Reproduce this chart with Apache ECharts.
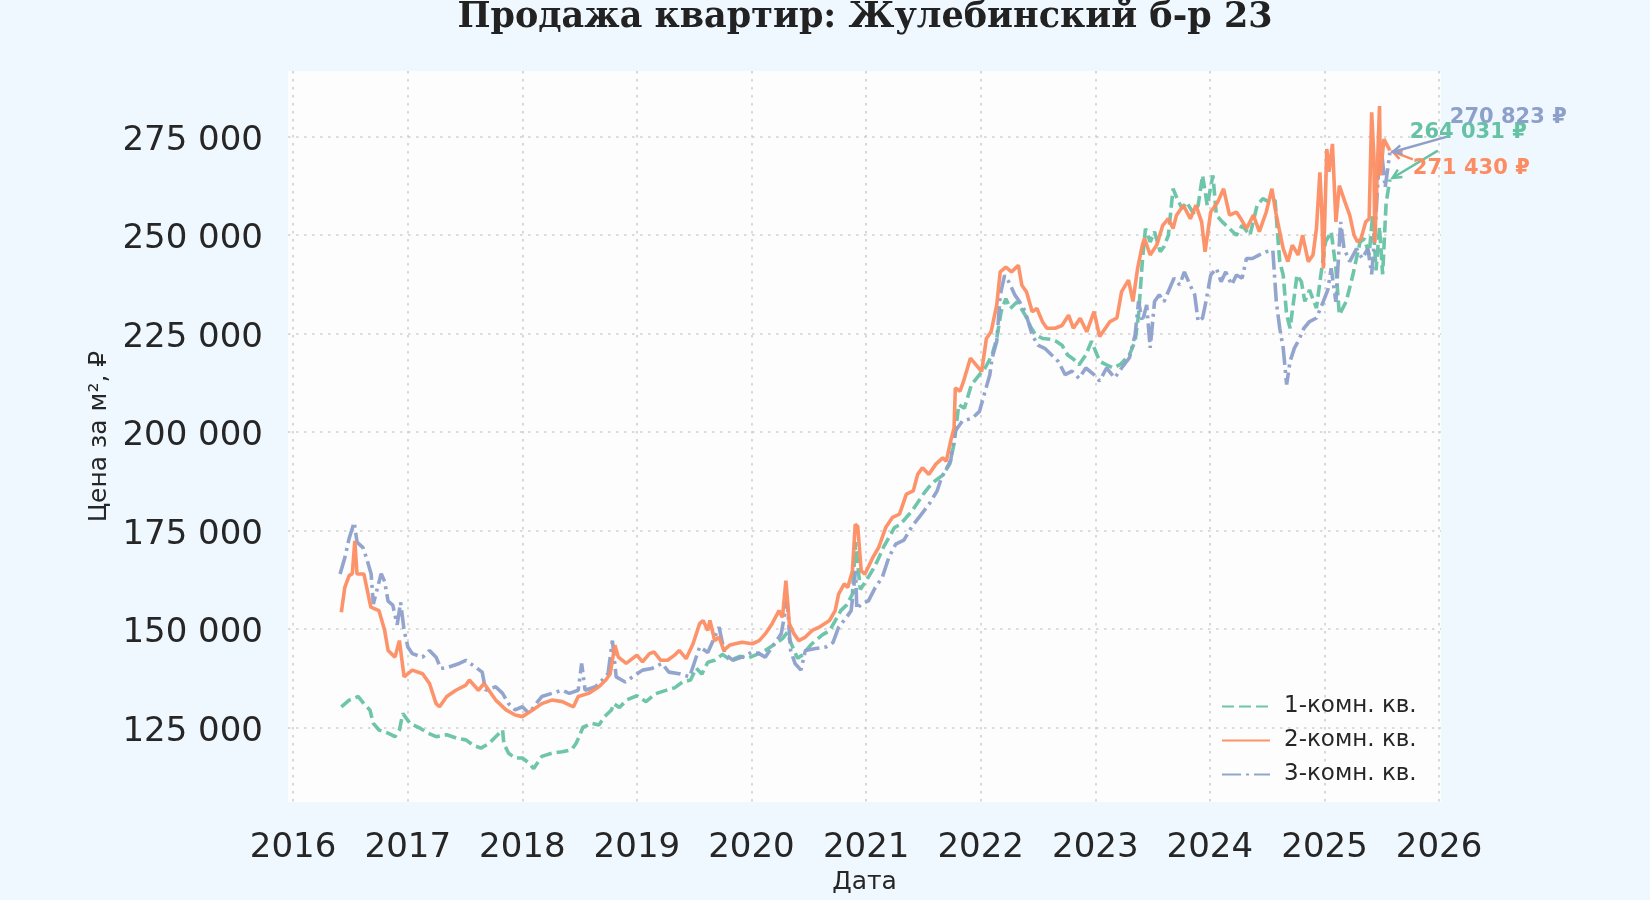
<!DOCTYPE html>
<html><head><meta charset="utf-8">
<script src="https://cdn.jsdelivr.net/npm/echarts@6/dist/echarts.min.js"></script>
<style>html,body{margin:0;padding:0;background:#f0f8ff}#c{width:1650px;height:900px}</style>
</head><body><div id="c"></div>
<script>
const titleText = 'Продажа квартир: Жулебинский б-р 23';
const seriesNames = ['1-комн. кв.', '2-комн. кв.', '3-комн. кв.'];
const seriesColors = ['#66c2a5', '#fc8d62', '#8da0cb'];
const xAxisName = 'Дата';
const yAxisName = 'Цена за м², ₽';

const dates1 = ['2016-06-03','2016-06-28','2016-07-27','2016-08-14','2016-09-02','2016-09-13','2016-10-01','2016-10-30','2016-11-21','2016-12-05','2016-12-16',
'2017-01-08','2017-02-10','2017-03-07','2017-04-01','2017-05-05','2017-06-07','2017-07-05','2017-07-27','2017-08-22','2017-09-17','2017-10-08','2017-10-30','2017-11-03','2017-11-18','2017-12-09',
'2018-01-01','2018-01-22','2018-02-06','2018-03-04','2018-04-05','2018-05-08','2018-06-07','2018-06-21','2018-07-01','2018-07-13','2018-08-11','2018-09-02','2018-09-20','2018-10-12','2018-10-19','2018-11-06','2018-12-01',
'2019-01-01','2019-01-30','2019-03-01','2019-04-01','2019-05-01','2019-05-27','2019-06-21','2019-07-09','2019-07-27','2019-08-15','2019-09-06','2019-10-01','2019-10-27','2019-11-25','2019-12-20',
'2020-01-19','2020-02-14','2020-03-14','2020-04-09','2020-04-24','2020-05-08','2020-05-27','2020-06-14','2020-07-09','2020-07-31','2020-08-15','2020-09-06','2020-09-24','2020-10-12','2020-10-30','2020-11-18','2020-11-28','2020-12-13',
'2021-01-01','2021-01-22','2021-02-06','2021-02-25','2021-03-14','2021-04-01','2021-04-20','2021-05-09','2021-05-27','2021-06-18','2021-07-02','2021-07-20','2021-08-08','2021-09-02','2021-09-24','2021-10-08','2021-10-23','2021-11-10','2021-12-02','2021-12-28',
'2022-01-15','2022-02-06','2022-02-21','2022-03-07','2022-03-22','2022-04-05','2022-04-27','2022-05-23','2022-06-10','2022-06-25','2022-07-17','2022-08-11','2022-08-29','2022-09-17','2022-10-05','2022-10-23','2022-11-10','2022-12-02','2022-12-20',
'2023-01-15','2023-02-06','2023-02-28','2023-03-22','2023-04-20','2023-05-08','2023-05-19','2023-05-31','2023-06-10','2023-06-25','2023-07-09','2023-07-27','2023-08-08','2023-08-22','2023-09-06','2023-09-20','2023-10-05','2023-10-19','2023-11-10','2023-11-25','2023-12-09','2023-12-24',
'2024-01-11','2024-01-22','2024-02-10','2024-03-04','2024-03-26','2024-04-13','2024-05-08','2024-05-31','2024-06-18','2024-07-09','2024-07-27','2024-08-11','2024-08-22','2024-09-02','2024-09-13','2024-10-05','2024-10-19','2024-10-30','2024-11-14','2024-12-06','2024-12-20',
'2025-01-04','2025-01-22','2025-02-06','2025-02-17','2025-03-11','2025-04-01','2025-04-24','2025-05-08','2025-05-23','2025-06-03','2025-06-14','2025-06-25','2025-07-05','2025-07-16','2025-07-28'];
const values1 = [130200,131900,132800,131000,129400,126000,124300,123500,122600,124300,128500,
126000,124700,123500,122600,123100,122200,121800,120500,119700,120900,122600,124300,120900,118400,117200,
117200,115900,114500,117600,118400,118800,119300,120900,122600,125000,126000,125600,127700,129400,131000,130000,132000,
133000,131500,133500,134300,135000,136500,137000,140000,138500,141500,142000,143500,142000,143000,142500,
143500,144500,146000,147500,149000,146000,142500,143500,146000,147500,148500,149500,152000,154600,156000,158800,172000,160000,
162200,165000,167300,170700,173100,175700,176500,178300,179900,182500,184200,186000,187500,189000,191800,197000,206900,206000,211900,214500,
216200,219500,223700,230500,233800,231300,233000,229600,226500,224600,223700,223500,223000,222000,219500,218500,217000,219500,223000,
217900,217000,216200,217100,219600,223000,229700,243200,251600,248200,250800,245700,247000,249900,261700,259000,256700,258300,255500,257500,265100,257500,
265100,255000,253300,251600,249900,252400,249900,257500,259200,258300,258800,243200,239800,229700,226300,239800,238100,233100,236000,231400,239800,
248200,250800,241500,229700,233100,239800,248200,249000,245000,255000,241000,252000,240000,258000,264031];

const dates2 = ['2016-06-03','2016-06-14','2016-06-28','2016-07-08','2016-07-16','2016-07-23','2016-08-14','2016-09-05','2016-10-01','2016-10-19','2016-10-30','2016-11-21','2016-12-05','2016-12-20',
'2017-01-15','2017-02-17','2017-03-11','2017-04-01','2017-04-12','2017-05-05','2017-06-03','2017-07-05','2017-07-16','2017-08-14','2017-09-01','2017-10-08','2017-11-10','2017-12-09',
'2018-01-01','2018-02-03','2018-03-04','2018-04-05','2018-05-08','2018-06-13','2018-06-28','2018-07-31','2018-09-02','2018-09-24','2018-10-08','2018-10-23','2018-11-03','2018-11-28',
'2019-01-01','2019-01-19','2019-02-10','2019-02-25','2019-03-18','2019-04-09','2019-05-01','2019-05-16','2019-06-07','2019-06-29','2019-07-20','2019-07-31','2019-08-15','2019-08-22','2019-09-06','2019-09-20','2019-10-05','2019-10-23','2019-11-10','2019-12-02',
'2020-01-04','2020-01-26','2020-02-14','2020-03-07','2020-03-29','2020-04-09','2020-04-20','2020-05-01','2020-05-16','2020-05-31','2020-06-21','2020-07-13','2020-08-04','2020-09-06','2020-09-24','2020-10-05','2020-10-23','2020-11-03','2020-11-18','2020-11-27','2020-12-05','2020-12-16','2020-12-28',
'2021-01-22','2021-02-10','2021-03-04','2021-03-26','2021-04-17','2021-05-09','2021-05-31','2021-06-14','2021-06-29','2021-07-20','2021-08-11','2021-09-02','2021-09-13','2021-09-27','2021-10-08','2021-10-12','2021-10-27','2021-11-07','2021-11-29','2021-12-17',
'2022-01-04','2022-01-19','2022-02-03','2022-02-21','2022-03-04','2022-03-22','2022-04-09','2022-05-01','2022-05-12','2022-05-27','2022-06-14','2022-06-29','2022-07-17','2022-07-31','2022-08-26','2022-09-17','2022-10-08','2022-10-23','2022-11-14','2022-12-05','2022-12-28',
'2023-01-15','2023-02-17','2023-03-11','2023-03-26','2023-04-17','2023-05-01','2023-05-16','2023-05-31','2023-06-07','2023-06-25','2023-07-16','2023-08-04','2023-08-22','2023-09-06','2023-09-17','2023-10-09','2023-10-31','2023-11-18','2023-12-06','2023-12-17',
'2024-01-04','2024-01-26','2024-02-14','2024-03-04','2024-03-26','2024-04-09','2024-04-27','2024-05-19','2024-06-07','2024-06-29','2024-07-17','2024-07-31','2024-08-22','2024-09-06','2024-09-20','2024-10-09','2024-10-23','2024-11-10','2024-11-25','2024-12-06','2024-12-17','2024-12-23','2024-12-28',
'2025-01-08','2025-01-15','2025-01-26','2025-02-06','2025-02-17','2025-03-07','2025-03-22','2025-04-05','2025-04-16','2025-04-27','2025-05-12','2025-05-23','2025-05-31','2025-06-07','2025-06-10','2025-06-25','2025-06-28','2025-07-09','2025-07-28'];
const values2 = [154200,160500,163500,164000,172300,163900,163900,155500,154600,149600,144500,142800,147000,137800,
139500,138600,136100,131000,130200,132800,134400,135700,137000,134400,136100,131900,129400,128100,
127700,129400,131000,131900,131500,130200,132800,133600,135300,137000,138600,145800,142800,141200,
143300,141600,143700,144100,142000,142000,143300,144500,142400,146200,151300,152100,149600,152100,147000,147900,144500,145800,146200,146600,
146200,147000,148700,151300,154600,152900,162200,151300,148700,147000,147900,149600,150400,152100,154600,158800,161400,160500,164700,176500,176000,164700,163900,
168100,170700,175700,178300,179100,184200,185000,189200,190900,189200,191800,193400,192500,197600,201000,211100,210300,212800,218700,217000,
215300,223700,225400,232200,240600,241800,240600,242300,237200,235500,230500,231300,227900,226300,226300,227000,229600,226300,228800,225400,230500,
224200,228000,228900,235600,238500,233100,241500,247400,249100,244900,247400,252400,254100,251600,255000,257500,254100,257500,253300,245700,
255800,258300,261700,255000,255800,254100,251600,255000,250800,255800,261700,255000,246500,243200,247400,244900,249900,243200,244900,251600,265900,256000,241500,
271800,266000,273100,253300,262500,258300,255000,249900,248200,249000,253300,254100,281100,270100,248000,282700,265100,274300,271430];

const dates3 = ['2016-05-30','2016-06-14','2016-06-28','2016-07-14','2016-07-23','2016-08-11','2016-08-22','2016-09-06','2016-09-13','2016-10-08','2016-10-19','2016-10-30','2016-11-14','2016-11-28','2016-12-09','2016-12-20',
'2017-01-01','2017-01-15','2017-02-17','2017-03-11','2017-04-01','2017-04-16','2017-05-12','2017-06-14','2017-07-05','2017-08-04','2017-08-26','2017-09-06','2017-10-08','2017-10-30','2017-11-18','2017-12-09',
'2018-01-01','2018-01-22','2018-02-14','2018-03-04','2018-04-05','2018-05-08','2018-05-31','2018-06-28','2018-07-09','2018-07-20','2018-08-22','2018-09-13','2018-10-01','2018-10-15','2018-10-27','2018-11-25',
'2019-01-19','2019-02-17','2019-03-22','2019-04-13','2019-05-16','2019-06-18','2019-07-20','2019-08-15','2019-09-20','2019-10-08','2019-11-03','2019-12-02',
'2020-01-04','2020-01-26','2020-02-14','2020-03-14','2020-04-05','2020-04-24','2020-05-05','2020-05-19','2020-06-07','2020-06-21','2020-07-24','2020-08-26','2020-09-17','2020-10-05','2020-10-30','2020-11-14','2020-11-28','2020-12-02','2020-12-16',
'2021-01-08','2021-01-30','2021-02-21','2021-03-14','2021-04-05','2021-05-01','2021-05-27','2021-06-25','2021-07-20','2021-08-15','2021-08-29','2021-09-27','2021-10-12','2021-11-03','2021-12-06','2021-12-28',
'2022-01-15','2022-01-30','2022-02-06','2022-02-21','2022-03-04','2022-03-18','2022-04-01','2022-04-20','2022-05-05','2022-05-23','2022-06-14','2022-07-02','2022-07-24','2022-08-15','2022-09-06','2022-09-27','2022-10-19','2022-11-10','2022-12-02','2022-12-28',
'2023-01-15','2023-02-06','2023-03-04','2023-03-26','2023-04-20','2023-05-08','2023-05-19','2023-05-31','2023-06-14','2023-06-25','2023-07-09','2023-07-24','2023-08-08','2023-08-26','2023-09-09','2023-09-27','2023-10-12','2023-10-30','2023-11-14','2023-11-25','2023-12-09','2023-12-20',
'2024-01-04','2024-01-22','2024-02-06','2024-02-21','2024-03-11','2024-03-26','2024-04-13','2024-04-27','2024-05-16','2024-06-07','2024-06-29','2024-07-20','2024-07-31','2024-08-11','2024-08-22','2024-09-02','2024-09-13','2024-09-27','2024-10-09','2024-10-27','2024-11-14','2024-12-06','2024-12-28',
'2025-01-11','2025-01-22','2025-02-06','2025-02-21','2025-03-04','2025-03-22','2025-04-13','2025-05-01','2025-05-19','2025-05-31','2025-06-10','2025-06-21','2025-07-02','2025-07-13','2025-07-28'];
const values3 = [163900,168000,173000,177000,172000,170600,168000,163900,156300,164000,162000,157000,156000,151000,156700,149600,
145400,143700,142800,144500,142800,139900,140300,141200,142000,140300,139000,134400,135300,133600,131000,129400,
130200,128500,131000,132800,133600,134400,133600,134400,141200,134400,135300,137000,138600,147000,137800,136500,
139500,139900,141200,139000,138600,137800,145400,144000,150400,143700,142000,142800,
144100,143700,142800,146200,148700,157100,144500,141200,139500,144500,145000,145400,146500,150400,152900,154600,164700,155000,156300,
157100,160500,163000,168100,171500,172500,176000,179000,181600,185000,188400,192600,200200,202700,203500,205200,
210300,214500,218700,222900,234700,239700,238000,234700,233000,230500,224600,222000,221200,219500,217800,214500,215400,213600,216200,214500,
212900,216200,213700,216200,218800,224600,233100,228000,232200,221300,233100,234800,233000,236400,239000,237300,240600,237300,234800,228000,228900,233100,
239800,241500,238100,240600,237300,239800,239000,244000,244000,244900,245700,246100,233100,226300,221300,212000,217900,221300,223000,226300,228000,228900,233100,
236000,241500,233000,253300,246500,243200,246500,244000,246500,240000,249900,265100,271000,262000,270823];

const allDates = [dates1, dates2, dates3];
const allValues = [values1, values2, values3];
const lineTypes = [[12, 5], 'solid', [19, 5, 3, 5]];
// label offsets of the end-value annotations (pixels, relative to the last point)
const annotText = [[20, -47], [23, 18], [60, -35]];
const annotTail = [[48, -29], [23, 9], [60, -17]];

function fmtNum(v) { return String(Math.round(v)).replace(/\B(?=(\d{3})+(?!\d))/g, ' '); }

const chart = echarts.init(document.getElementById('c'));
const series = seriesNames.map((name, i) => ({
  name: name,
  type: 'line',
  data: allDates[i].map((d, j) => [d, allValues[i][j]]),
  showSymbol: false,
  symbol: 'none',
  color: seriesColors[i],
  lineStyle: { width: 3.6, type: lineTypes[i], color: seriesColors[i], opacity: 0.95 },
  z: i === 1 ? 3 : 2,
  animation: false
}));

const axisFont = { fontFamily: 'DejaVu Sans', fontSize: 34, color: '#262626' };
const nameFont = { fontFamily: 'DejaVu Sans', fontSize: 25, color: '#262626' };
const gridLine = { show: true, showMinLine: false, showMaxLine: false, lineStyle: { color: '#cfcfcf', width: 1.6, type: [2.5, 5.5] } };

chart.setOption({
  backgroundColor: '#f0f8ff',
  animation: false,
  title: {
    text: titleText, left: 865, textAlign: 'center', top: 0, padding: 0,
    textStyle: { fontFamily: 'DejaVu Serif', fontWeight: 'bold', fontSize: 35, color: '#222222' }
  },
  grid: { left: 288, right: 209, top: 71, bottom: 92, show: true, backgroundColor: '#fdfdfd', borderWidth: 0 },
  legend: {
    orient: 'vertical', left: 1216, top: 690, itemWidth: 48, itemHeight: 14, itemGap: 11,
    itemStyle: { opacity: 0 },
    textStyle: { fontFamily: 'DejaVu Sans', fontSize: 23, color: '#262626', padding: [0, 0, 0, 9] },
    data: seriesNames
  },
  xAxis: {
    type: 'time',
    min: '2015-12-16', max: '2026-01-07',
    splitNumber: 10,
    minInterval: 365 * 86400000, maxInterval: 366 * 86400000,
    name: xAxisName, nameLocation: 'middle', nameGap: 65,
    nameTextStyle: nameFont,
    axisLine: { show: false }, axisTick: { show: false },
    axisLabel: Object.assign({ margin: 29, showMinLabel: false, showMaxLabel: false,
      formatter: v => String(new Date(v).getFullYear()) }, axisFont),
    splitLine: gridLine
  },
  yAxis: {
    type: 'value', min: 106000, max: 291600,
    minInterval: 25000, maxInterval: 25000,
    name: yAxisName, nameLocation: 'middle', nameGap: 176, nameRotate: 90,
    nameTextStyle: nameFont,
    axisLine: { show: false }, axisTick: { show: false },
    axisLabel: Object.assign({ margin: 25, showMinLabel: false, showMaxLabel: false,
      formatter: v => '{t|' + fmtNum(v) + '}',
      rich: { t: Object.assign({ padding: [9, 0, 0, 0] }, axisFont) } }, axisFont),
    splitLine: gridLine
  },
  series: series
});

function arrowEls(tail, tip, color) {
  const ang = Math.atan2(tip[1] - tail[1], tip[0] - tail[0]);
  const L = 10, s = 0.45;
  const p1 = [tip[0] - L * Math.cos(ang - s), tip[1] - L * Math.sin(ang - s)];
  const p2 = [tip[0] - L * Math.cos(ang + s), tip[1] - L * Math.sin(ang + s)];
  return [
    { type: 'line', silent: true, z: 100, shape: { x1: tail[0], y1: tail[1], x2: tip[0], y2: tip[1] }, style: { stroke: color, lineWidth: 2.5 } },
    { type: 'polyline', silent: true, z: 100, shape: { points: [p1, tip, p2] }, style: { stroke: color, lineWidth: 2.5, fill: null } }
  ];
}

const parseT = (echarts.time && echarts.time.parse) ? (d => +echarts.time.parse(d)) : (d => +new Date(d));
const graphics = [];
seriesNames.forEach((name, i) => {
  const n = allDates[i].length;
  const lastVal = allValues[i][n - 1];
  const p = chart.convertToPixel({ gridIndex: 0 }, [parseT(allDates[i][n - 1]), lastVal]);
  const col = seriesColors[i];
  const tail = [p[0] + annotTail[i][0], p[1] + annotTail[i][1]];
  const dx = tail[0] - p[0], dy = tail[1] - p[1], len = Math.hypot(dx, dy);
  const tip = [p[0] + dx / len * 3, p[1] + dy / len * 3];
  graphics.push(...arrowEls(tail, tip, col));
  graphics.push({
    type: 'text', silent: true, z: 101,
    x: p[0] + annotText[i][0], y: p[1] + annotText[i][1],
    style: { text: fmtNum(lastVal) + ' ₽', fill: col, font: 'bold 21px "DejaVu Sans"', align: 'left', verticalAlign: 'middle' }
  });
});
chart.setOption({ graphic: graphics });
</script>
</body></html>
